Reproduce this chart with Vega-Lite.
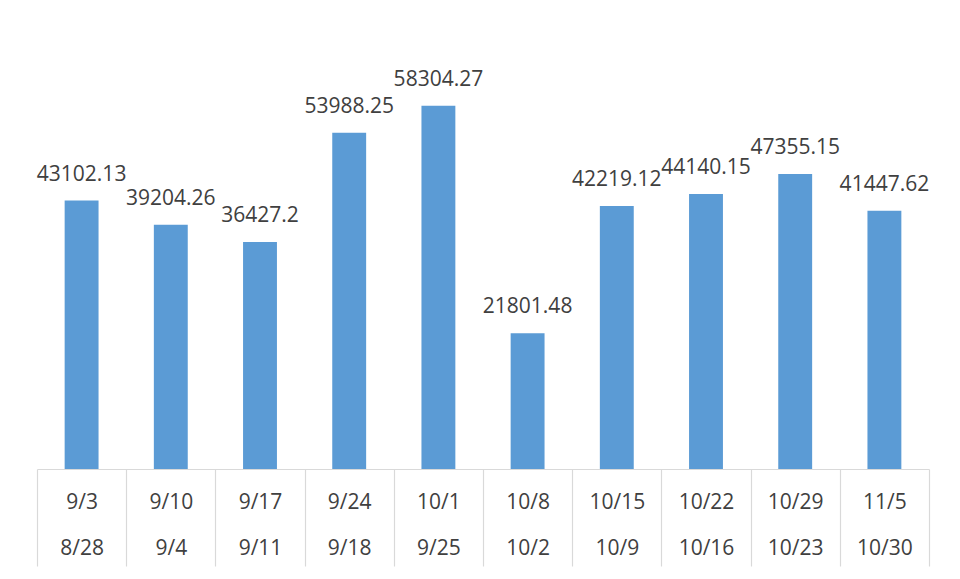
{
  "$schema": "https://vega.github.io/schema/vega-lite/v6.json",
  "width": 892,
  "height": 436,
  "autosize": {"type": "none"},
  "padding": {"left": 37, "top": 33, "right": 31, "bottom": 110},
  "background": "white",
  "config": {"view": {"stroke": null}, "font": "Open Sans"},
  "data": {
    "values": [
      {"week": "9/3|8/28", "value": 43102.13},
      {"week": "9/10|9/4", "value": 39204.26},
      {"week": "9/17|9/11", "value": 36427.2},
      {"week": "9/24|9/18", "value": 53988.25},
      {"week": "10/1|9/25", "value": 58304.27},
      {"week": "10/8|10/2", "value": 21801.48},
      {"week": "10/15|10/9", "value": 42219.12},
      {"week": "10/22|10/16", "value": 44140.15},
      {"week": "10/29|10/23", "value": 47355.15},
      {"week": "11/5|10/30", "value": 41447.62}
    ]
  },
  "encoding": {
    "x": {
      "field": "week",
      "type": "nominal",
      "sort": null,
      "scale": {"paddingInner": 0, "paddingOuter": 0},
      "axis": {
        "title": null,
        "labelAngle": 0,
        "labelExpr": "split(datum.label, '|')",
        "labelLineHeight": 46,
        "labelBaseline": "middle",
        "labelFontSize": 21,
        "labelColor": "#404040",
        "labelFont": "Open Sans",
        "labelPadding": -64,
        "domainColor": "#d9d9d9",
        "domainWidth": 1.2,
        "tickBand": "extent",
        "tickSize": 97,
        "tickColor": "#d9d9d9",
        "tickWidth": 1.2,
        "grid": false
      }
    },
    "y": {
      "field": "value",
      "type": "quantitative",
      "scale": {"domain": [0, 70000]},
      "axis": null
    }
  },
  "layer": [
    {"mark": {"type": "bar", "color": "#5b9bd5", "width": {"band": 0.38}}},
    {
      "mark": {"type": "text", "baseline": "alphabetic", "dy": -20, "fontSize": 21, "color": "#404040", "font": "Open Sans"},
      "encoding": {"text": {"field": "value", "type": "quantitative", "format": ".7~r"}}
    }
  ]
}
